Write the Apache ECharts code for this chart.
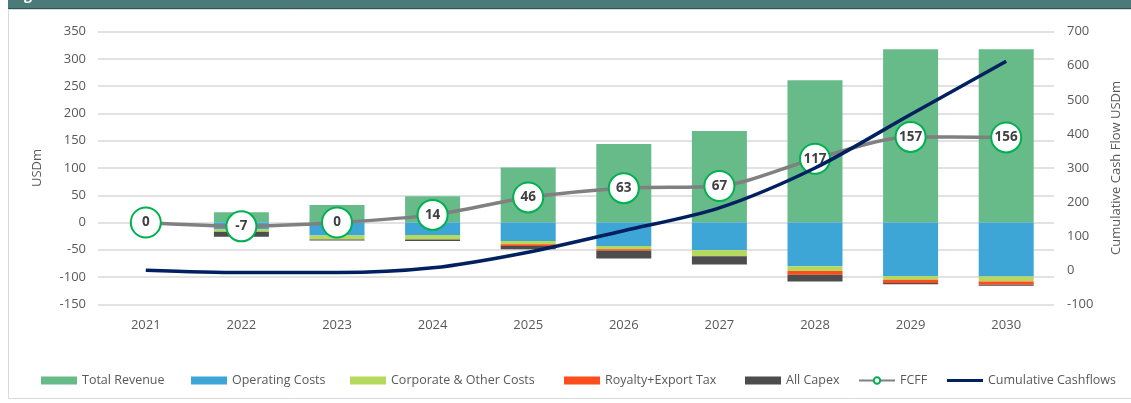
<!DOCTYPE html>
<html>
<head>
<meta charset="utf-8">
<script src="https://cdn.jsdelivr.net/npm/echarts@6/dist/echarts.min.js"></script>
<style>
  html, body { margin: 0; padding: 0; background: #fff; }
  #chart { width: 1131px; height: 403px; }
</style>
</head>
<body>
<div id="chart"></div>
<script>
var years = ['2021', '2022', '2023', '2024', '2025', '2026', '2027', '2028', '2029', '2030']
var revenue = [0, 19, 32, 48, 101, 144, 168, 261, 318, 318]
var opex = [0, -12, -24, -23, -34, -43, -51, -80, -98, -99]
var corporate = [0, -5, -7, -8, -6, -6, -11, -9, -7, -9]
var royalty = [0, 0, 0, 0, -3, -3, 0, -7, -6, -6]
var capex = [0, -9, -2, -3, -6, -14, -15, -12, -2, -2]
var fcff = [0, -7, 0, 14, 46, 63, 67, 117, 157, 156]
var cumulative = [0, -7, -7, 7, 53, 116, 183, 300, 457, 613]

var font = 'Open Sans'
var textColor = '#595959'

function barSeries (name, data, color) {
  return {
    name: name,
    type: 'bar',
    stack: 'cash',
    barWidth: 55,
    itemStyle: { color: color },
    data: data
  }
}

// one legend per item so each sits where it does in the picture
function legendAt (name, left, icon, h) {
  return {
    data: [icon ? { name: name, icon: icon } : name],
    left: left,
    top: 369,
    itemWidth: 36,
    itemHeight: h || 8,
    itemGap: 4,
    textStyle: { color: textColor, fontFamily: font, fontSize: 12.5 }
  }
}

var myChart = echarts.init(document.getElementById('chart'))
var option = {
  animation: false,
  graphic: [
    { type: 'rect', shape: { x: 8, y: 0, width: 1123, height: 8 }, style: { fill: '#4a7b78' } },
    { type: 'rect', shape: { x: 8, y: 8, width: 1123, height: 1 }, style: { fill: '#2f5553' } },
    { type: 'text', left: 12, top: -11, style: { text: 'Figure', fill: '#ffffff', font: 'bold 14px Open Sans' } },
    { type: 'rect', shape: { x: 8.5, y: 9.5, width: 1130, height: 389 }, style: { fill: 'none', stroke: '#d9d9d9', lineWidth: 1 } }
  ],
  grid: { left: 98, right: 66, top: 31.7, bottom: 98.7 },
  legend: [
    legendAt('Total Revenue', 36, 'rect'),
    legendAt('Operating Costs', 186, 'rect'),
    legendAt('Corporate & Other Costs', 345, 'rect'),
    legendAt('Royalty+Export Tax', 559, 'rect'),
    legendAt('All Capex', 740, 'rect'),
    legendAt('FCFF', 853),
    legendAt('Cumulative Cashflows', 942, 'rect', 3)
  ],
  xAxis: {
    type: 'category',
    data: years,
    axisLine: { show: false },
    axisTick: { show: false },
    axisLabel: { color: textColor, fontFamily: font, fontSize: 13, margin: 14 }
  },
  yAxis: [{
    type: 'value',
    min: -150,
    max: 350,
    interval: 50,
    name: 'USDm',
    nameLocation: 'middle',
    nameRotate: 90,
    nameGap: 54,
    nameTextStyle: { color: textColor, fontFamily: font, fontSize: 13 },
    axisLabel: { color: textColor, fontFamily: font, fontSize: 13, margin: 12 },
    splitLine: { lineStyle: { color: '#d9d9d9', width: 1.5 } }
  }, {
    type: 'value',
    min: -100,
    max: 700,
    interval: 100,
    name: 'Cumulative Cash Flow USDm',
    nameLocation: 'middle',
    nameRotate: 90,
    nameGap: 56,
    nameTextStyle: { color: textColor, fontFamily: font, fontSize: 13 },
    axisLabel: { color: textColor, fontFamily: font, fontSize: 13, margin: 13 },
    splitLine: { show: false }
  }],
  series: [
    barSeries('Total Revenue', revenue, '#66bb88'),
    barSeries('Operating Costs', opex, '#3ea6d7'),
    barSeries('Corporate & Other Costs', corporate, '#b5d95c'),
    barSeries('Royalty+Export Tax', royalty, '#ff4c1c'),
    barSeries('All Capex', capex, '#4d4d4d'),
    {
      name: 'FCFF',
      type: 'line',
      smooth: 0.3,
      data: fcff,
      symbol: 'circle',
      symbolSize: 30,
      z: 3,
      lineStyle: { color: '#808080', width: 3.5 },
      itemStyle: { color: '#ffffff', borderColor: '#00b050', borderWidth: 2 },
      label: {
        show: true,
        position: 'inside',
        color: '#404040',
        fontFamily: font,
        fontSize: 13.5,
        fontWeight: 'bold'
      }
    },
    {
      name: 'Cumulative Cashflows',
      type: 'line',
      yAxisIndex: 1,
      smooth: 0.3,
      showSymbol: false,
      symbol: 'none',
      data: cumulative,
      z: 5,
      lineStyle: { color: '#002060', width: 3.5 },
      itemStyle: { color: '#002060' }
    }
  ]
}
myChart.setOption(option)
</script>
</body>
</html>
